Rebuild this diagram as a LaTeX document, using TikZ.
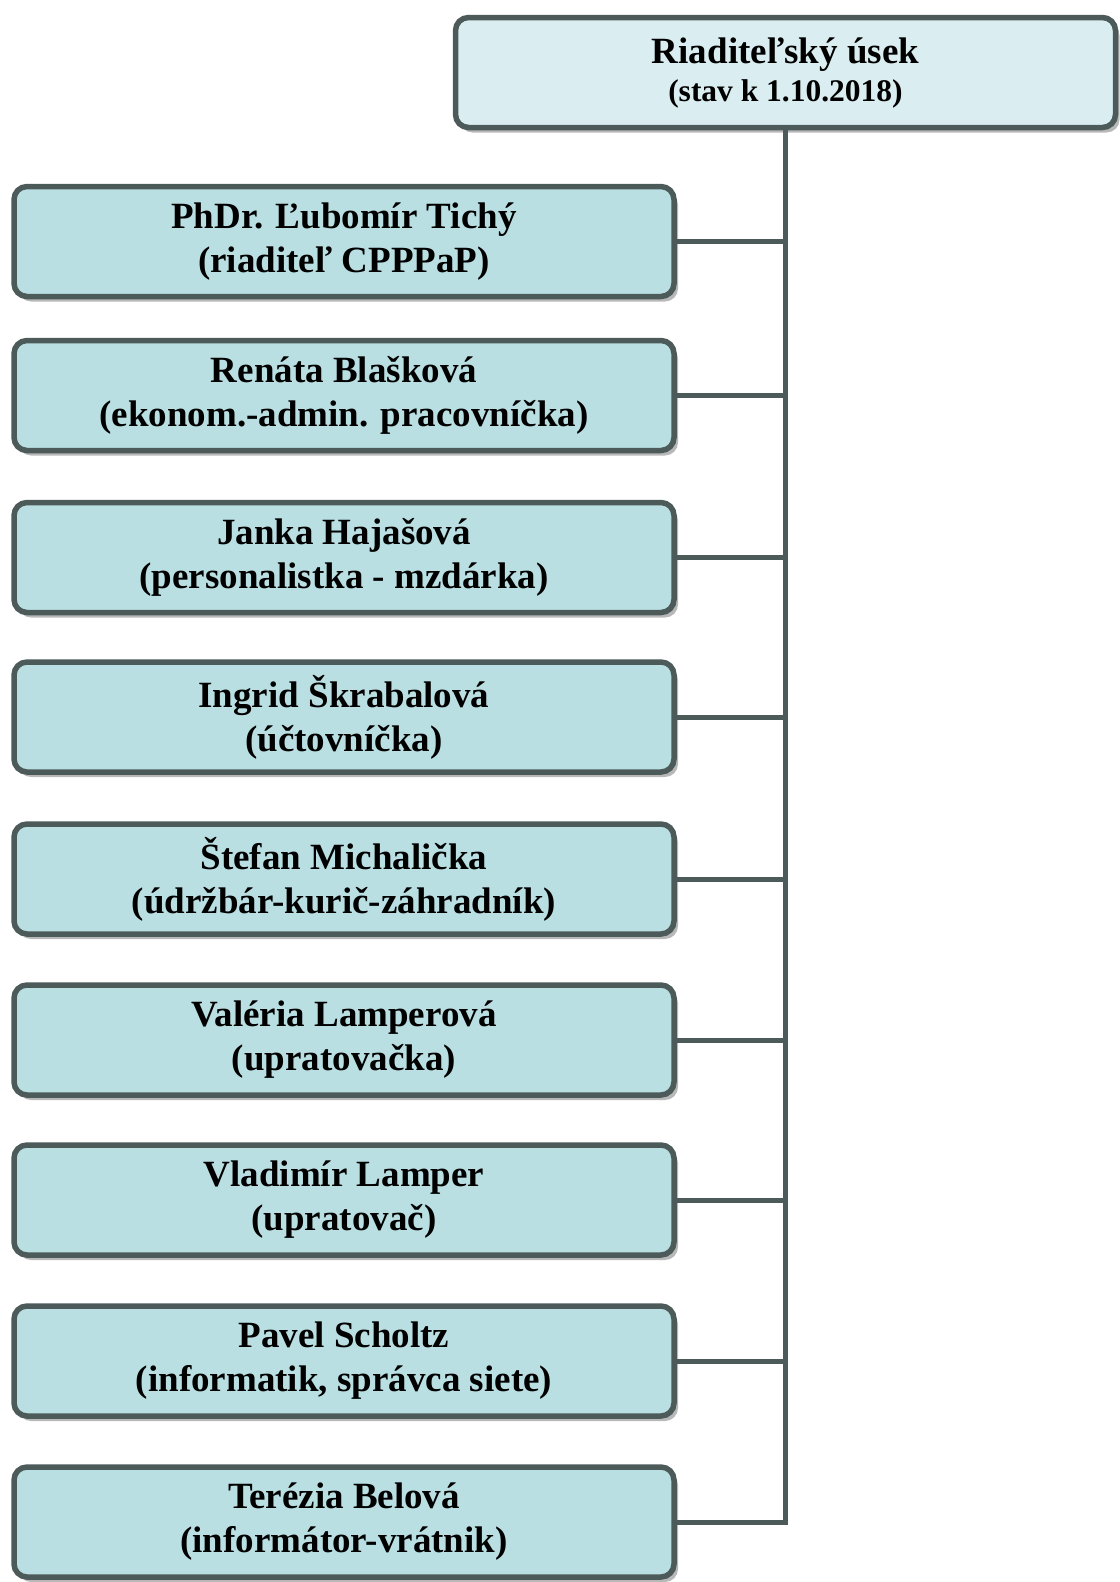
\documentclass[tikz,border=0pt]{standalone}
\usepackage{fontspec}
\setmainfont{Liberation Serif}
\usetikzlibrary{shadows}
\definecolor{edgegray}{HTML}{4D5A5A}
\definecolor{headfill}{HTML}{DAEEF1}
\definecolor{boxfill}{HTML}{B9DFE2}
\tikzset{
  unitbox/.style={draw=edgegray, line width=5.5pt, rounded corners=13pt,
    minimum width=660pt, minimum height=110pt, align=center,
    font=\bfseries\fontsize{37}{44}\selectfont,
    drop shadow={shadow xshift=4pt, shadow yshift=-5pt, fill=black!28, opacity=1}},
  headbox/.style={unitbox, fill=headfill},
  staffbox/.style={unitbox, fill=boxfill},
  link/.style={draw=edgegray, line width=5pt}
}
\begin{document}
\begin{tikzpicture}[x=1pt,y=-1pt]
    \useasboundingbox (0,0) rectangle (1119,1582);
    \node[headbox] (head) at (785.5,72.5) {Riaditeľský úsek\\[-6pt]{\fontsize{31.5}{36}\selectfont (stav k 1.10.2018)}};
    \node[staffbox] (s1) at (344,241.5) {PhDr. Ľubomír Tichý\\(riaditeľ CPPPaP)};
    \node[staffbox] (s2) at (344,395.5) {Renáta Blašková\\(ekonom.-admin. pracovníčka)};
    \node[staffbox] (s3) at (344,557.5) {Janka Hajašová\\(personalistka - mzdárka)};
    \node[staffbox] (s4) at (344,717) {Ingrid Škrabalová\\(účtovníčka)};
    \node[staffbox] (s5) at (344,879) {Štefan Michalička\\(údržbár-kurič-záhradník)};
    \node[staffbox] (s6) at (344,1040) {Valéria Lamperová\\(upratovačka)};
    \node[staffbox] (s7) at (344,1200) {Vladimír Lamper\\(upratovač)};
    \node[staffbox] (s8) at (344,1361) {Pavel Scholtz\\(informatik, správca siete)};
    \node[staffbox] (s9) at (344,1522) {Terézia Belová\\(informátor-vrátnik)};
    % trunk and branches
    \foreach \i in {1,...,9}
      \draw[link] (head.south) |- (s\i.east);
\end{tikzpicture}
\end{document}
